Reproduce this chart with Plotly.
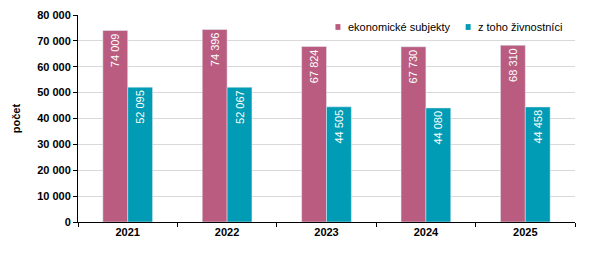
import plotly.graph_objects as go

years = ['2021', '2022', '2023', '2024', '2025']
ekonomicke = [74009, 74396, 67824, 67730, 68310]
zivnostnici = [52095, 52067, 44505, 44080, 44458]
series_names = ['ekonomické subjekty', 'z toho živnostníci']

MAGENTA = '#B95C80'
TEAL = '#009BB4'
FONT = 'Liberation Sans, Arial, sans-serif'

fig = go.Figure()
for vals, name, col in [(ekonomicke, series_names[0], MAGENTA), (zivnostnici, series_names[1], TEAL)]:
    fig.add_trace(go.Bar(x=years, y=vals, name=name, marker_color=col, showlegend=False,
                         texttemplate='%{y:,d}', textposition='inside', insidetextanchor='end',
                         textangle=-90, textfont=dict(color='white', size=11, family=FONT)))

# compact legend drawn as key squares + labels (paper coords)
legend_pos = [(0.523, 0.539), (0.785, 0.801)]
for (kx, tx), name, col in zip(legend_pos, series_names, [MAGENTA, TEAL]):
    fig.add_shape(type='rect', xref='paper', yref='paper', x0=kx - 0.005, x1=kx + 0.005,
                  y0=0.928, y1=0.956, fillcolor=col, line_width=0)
    fig.add_annotation(xref='paper', yref='paper', x=tx, y=0.942, text=name, showarrow=False,
                       xanchor='left', yanchor='middle', font=dict(size=11, family=FONT, color='black'))

fig.update_layout(
    width=589, height=262, barmode='group', bargap=0.5, bargroupgap=0,
    separators=', ', plot_bgcolor='white', paper_bgcolor='white',
    margin=dict(l=78, r=14, t=15, b=40), showlegend=False,
    font=dict(family=FONT, size=11, color='black'),
    uniformtext=dict(minsize=8, mode='show'),
    xaxis=dict(showline=True, linecolor='black', linewidth=1, ticks='outside',
               tickson='boundaries', ticklen=4, tickcolor='black', automargin=False,
               tickfont=dict(size=11, family=FONT, weight='bold')),
    yaxis=dict(range=[0, 80000], dtick=10000, tickformat=',d', showline=True,
               linecolor='black', linewidth=1, ticks='outside', ticklen=4,
               tickcolor='black', gridcolor='#D9D9D9', zeroline=False, automargin=False,
               tickfont=dict(size=11, family=FONT, weight='bold'),
               title=dict(text='počet', font=dict(size=11, family=FONT, weight='bold'),
                          standoff=14)),
)

fig.write_html('out.html', config={'displayModeBar': False},
               post_script="document.body.style.margin='0';")
